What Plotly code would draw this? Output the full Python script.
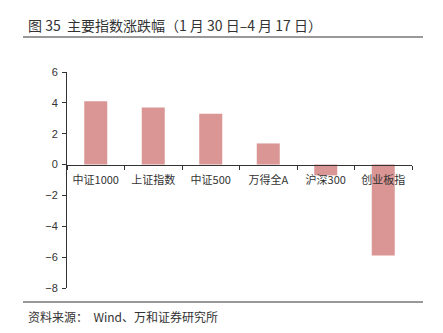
import plotly.graph_objects as go

categories = ["中证1000", "上证指数", "中证500", "万得全A", "沪深300", "创业板指"]
values = [4.1, 3.7, 3.3, 1.37, -0.7, -5.9]
y_ticks = [6, 4, 2, 0, -2, -4, -6, -8]

W, H = 443, 333
L, R, T, B = 67, 412, 72, 288

def px(x):
    return (x - L) / (R - L)

def py(y):
    return (B - y) / (B - T)

fig = go.Figure(go.Bar(x=categories, y=values, marker=dict(color="#D99694", line=dict(width=0)), width=0.4))

fig.update_layout(
    width=W, height=H,
    margin=dict(l=L, r=W - R, t=T, b=H - B),
    paper_bgcolor="white", plot_bgcolor="white",
    showlegend=False,
    font=dict(family="Liberation Sans, Arial", size=11, color="#333"),
    yaxis=dict(range=[-8, 6], tickvals=y_ticks, showgrid=False, zeroline=False,
               showline=True, linecolor="#333", linewidth=1, ticks="outside",
               ticklen=4, tickcolor="#333", ticklabelstandoff=2,
               tickfont=dict(size=11, color="#333")),
    xaxis=dict(anchor="free", position=8 / 14, showline=True, linecolor="#333", linewidth=1,
               ticks="outside", tickson="boundaries", ticklen=4, tickcolor="#333",
               ticklabelstandoff=5, showgrid=False,
               tickfont=dict(family="Noto Sans CJK SC", size=11, color="#333")),
    bargap=0.6,
)

fig.add_shape(type="line", xref="paper", yref="paper", x0=px(23), x1=px(423), y0=py(37), y1=py(37),
              line=dict(color="#333", width=1))
fig.add_shape(type="line", xref="paper", yref="paper", x0=px(23), x1=px(423), y0=py(302), y1=py(302),
              line=dict(color="#333", width=1))
fig.add_annotation(text="图 35  主要指数涨跌幅（1 月 30 日–4 月 17 日）", xref="paper", yref="paper",
                   x=px(26), y=py(25), xanchor="left", yanchor="middle", showarrow=False,
                   font=dict(family="Noto Sans CJK SC", size=14, color="#333"))
fig.add_annotation(text="资料来源：  Wind、万和证券研究所", xref="paper", yref="paper",
                   x=px(26), y=py(316), xanchor="left", yanchor="middle", showarrow=False,
                   font=dict(family="Noto Sans CJK SC", size=12, color="#333"))

fig.write_html("out.html")
